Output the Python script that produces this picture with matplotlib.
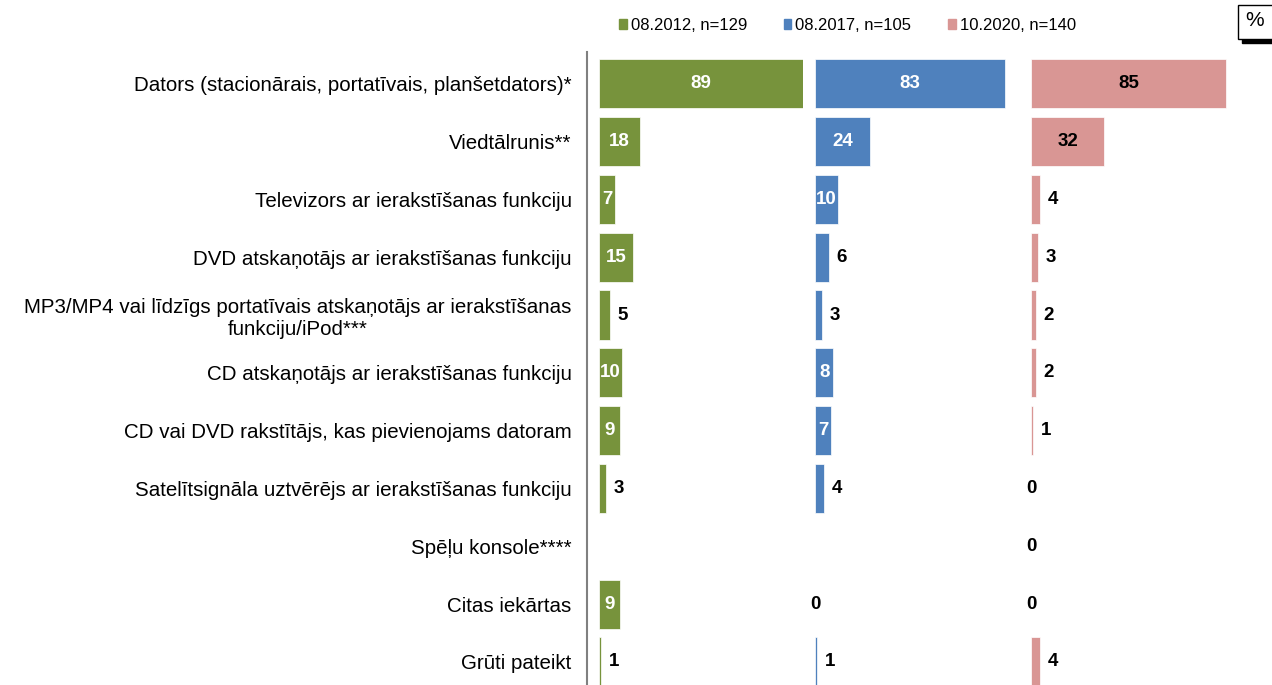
import matplotlib.pyplot as plt
from matplotlib.patches import Patch, Rectangle
import numpy as np

plt.rcParams['font.family'] = ['Liberation Sans', 'DejaVu Sans']

#----------------------------------------------------------------------------------

categories = [
    "Dators (stacionārais, portatīvais, planšetdators)*",
    "Viedtālrunis**",
    "Televizors ar ierakstīšanas funkciju",
    "DVD atskaņotājs ar ierakstīšanas funkciju",
    "MP3/MP4 vai līdzīgs portatīvais atskaņotājs ar ierakstīšanas\nfunkciju/iPod***",
    "CD atskaņotājs ar ierakstīšanas funkciju",
    "CD vai DVD rakstītājs, kas pievienojams datoram",
    "Satelītsignāla uztvērējs ar ierakstīšanas funkciju",
    "Spēļu konsole****",
    "Citas iekārtas",
    "Grūti pateikt",
]
series_names = ["08.2012, n=129", "08.2017, n=105", "10.2020, n=140"]
values_2012 = [89, 18, 7, 15, 5, 10, 9, 3, np.nan, 9, 1]
values_2017 = [83, 24, 10, 6, 3, 8, 7, 4, np.nan, 0, 1]
values_2020 = [85, 32, 4, 3, 2, 2, 1, 0, 0, 0, 4]
colors = ["#77933C", "#4F81BD", "#D99694"]

#----------------------------------------------------------------------------------

W, H = 1272, 685
fig = plt.figure(figsize=(W / 100, H / 100), dpi=100)

px_per_unit = 2.29
panel_px = 216
y_pos = np.arange(len(categories))
label_size = 13.5

all_values = [values_2012, values_2017, values_2020]
axes = []
for i, vals in enumerate(all_values):
    origin = 599 + panel_px * i
    left_px = origin - 12
    ax = fig.add_axes([left_px / W, 0, panel_px / W, 633 / H])
    ax.set_xlim(-12 / px_per_unit, (panel_px - 12) / px_per_unit)
    ax.set_ylim(10.4, -0.55)
    v = np.array(vals, dtype=float)
    ax.barh(y_pos, np.nan_to_num(v), height=0.85, color=colors[i],
            edgecolor="white", linewidth=0.5)
    for y, val in zip(y_pos, v):
        if np.isnan(val):
            continue
        if val == 0:
            ax.text(0, y, "0", ha="center", va="center", fontsize=label_size,
                    fontweight="bold", color="black")
        elif i < 2 and val >= 7:
            ax.text(val / 2, y, "%d" % val, ha="center", va="center",
                    fontsize=label_size, fontweight="bold", color="white")
        elif i == 2 and val >= 20:
            ax.text(val / 2, y, "%d" % val, ha="center", va="center",
                    fontsize=label_size, fontweight="bold", color="black")
        else:
            ax.text(val + 3.2, y, "%d" % val, ha="left", va="center",
                    fontsize=label_size, fontweight="bold", color="black")
    ax.set_xticks([])
    for side in ["top", "right", "bottom", "left"]:
        ax.spines[side].set_visible(False)
    ax.patch.set_alpha(0)
    if i == 0:
        ax.spines["left"].set_visible(True)
        ax.spines["left"].set_color("#808080")
        ax.spines["left"].set_linewidth(1.5)
        ax.set_yticks(y_pos)
        ax.set_yticklabels(categories, fontsize=14.8, multialignment="center")
        ax.tick_params(axis="y", length=0, pad=11)
    else:
        ax.set_yticks([])
    axes.append(ax)

#----------------------------------------------------------------------------------

handles = [Patch(color=c) for c in colors]
fig.legend(handles, series_names, loc="center left",
           bbox_to_anchor=(619 / W, 1 - 25 / H), ncol=3, frameon=False,
           fontsize=12, handlelength=0.45, handleheight=0.55,
           handletextpad=0.25, columnspacing=2.2, borderaxespad=0,
           borderpad=0)

# percent box with a shadow
fig.patches.append(Rectangle((1242 / W, 1 - 43 / H), 40 / W, 5 / H,
                             transform=fig.transFigure, color="black"))
fig.patches.append(Rectangle((1238 / W, 1 - 39 / H), 40 / W, 34 / H,
                             transform=fig.transFigure, facecolor="white",
                             edgecolor="black", linewidth=1))
fig.text(1255 / W, 1 - 21 / H, "%", ha="center", va="center", fontsize=15)

plt.savefig("out.png", dpi=100)
